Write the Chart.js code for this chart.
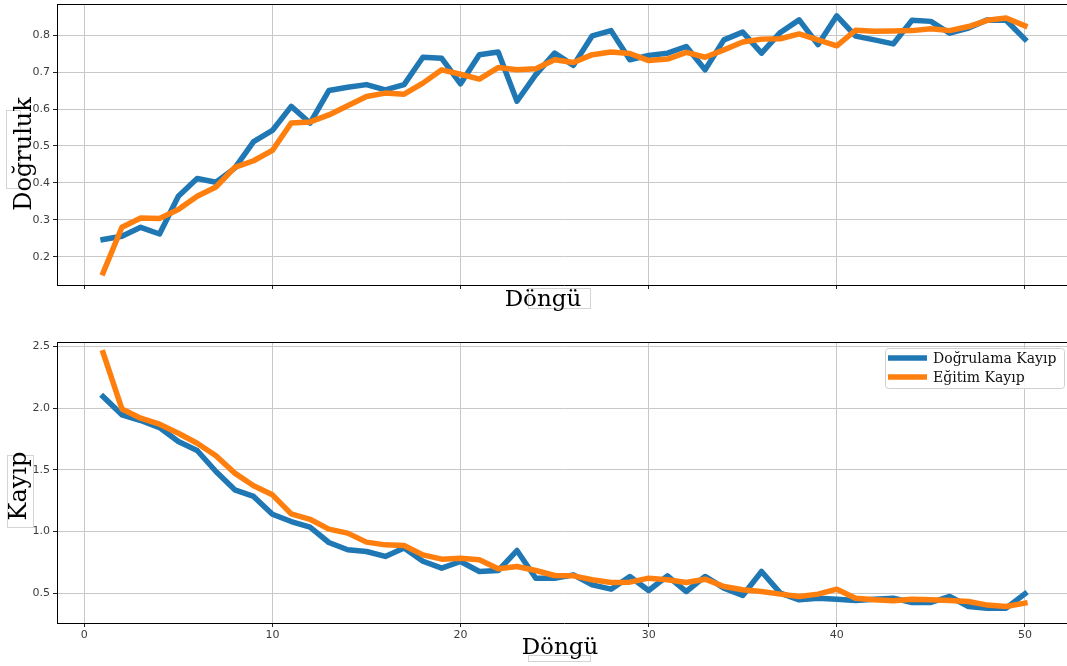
<!DOCTYPE html>
<html>
<head>
<meta charset="utf-8">
<script src="https://cdn.jsdelivr.net/npm/chart.js@4.4.1/dist/chart.umd.min.js"></script>
<style>
  html, body { margin: 0; padding: 0; background: #fff; overflow: hidden; }
  #wrap { position: relative; width: 1067px; height: 666px; overflow: hidden; background: #fff; }
  canvas { position: absolute; left: 0; }
  #acc  { top: 0;     width: 1080px; height: 315px; }
  #loss { top: 315px; width: 1080px; height: 351px; }
</style>
</head>
<body>
<div id="wrap">
  <canvas id="acc" width="1080" height="315"></canvas>
  <canvas id="loss" width="1080" height="351"></canvas>
</div>
<script>
// Epochs (Döngü)
const epochs = Array.from({ length: 50 }, (_, i) => i + 1);

// Accuracy per epoch
const valAcc = [
  0.247, 0.256, 0.280, 0.262, 0.364, 0.412, 0.402, 0.440, 0.512, 0.542,
  0.607, 0.562, 0.650, 0.659, 0.666, 0.652, 0.666, 0.740, 0.737, 0.668,
  0.747, 0.754, 0.621, 0.693, 0.751, 0.718, 0.798, 0.812, 0.733, 0.745,
  0.751, 0.769, 0.706, 0.787, 0.808, 0.751, 0.807, 0.841, 0.774, 0.852,
  0.797, 0.787, 0.776, 0.840, 0.837, 0.805, 0.819, 0.841, 0.840, 0.789
];
const trainAcc = [
  0.157, 0.280, 0.305, 0.304, 0.328, 0.364, 0.389, 0.442, 0.460, 0.488,
  0.562, 0.565, 0.584, 0.609, 0.634, 0.643, 0.640, 0.670, 0.706, 0.694,
  0.681, 0.712, 0.706, 0.709, 0.733, 0.726, 0.747, 0.754, 0.750, 0.731,
  0.735, 0.753, 0.740, 0.760, 0.781, 0.789, 0.790, 0.803, 0.787, 0.771,
  0.813, 0.810, 0.811, 0.812, 0.817, 0.812, 0.823, 0.840, 0.846, 0.825
];

// Loss per epoch
const valLoss = [
  2.094, 1.946, 1.900, 1.843, 1.730, 1.657, 1.487, 1.339, 1.285, 1.141,
  1.082, 1.036, 0.912, 0.853, 0.839, 0.799, 0.867, 0.760, 0.704, 0.758,
  0.677, 0.685, 0.847, 0.623, 0.623, 0.650, 0.569, 0.534, 0.637, 0.523,
  0.642, 0.515, 0.637, 0.542, 0.483, 0.677, 0.502, 0.448, 0.461, 0.453,
  0.442, 0.453, 0.461, 0.426, 0.426, 0.475, 0.394, 0.380, 0.380, 0.497
];
const trainLoss = [
  2.450, 1.994, 1.919, 1.870, 1.797, 1.716, 1.614, 1.474, 1.371, 1.298,
  1.144, 1.100, 1.020, 0.988, 0.915, 0.893, 0.888, 0.812, 0.777, 0.785,
  0.772, 0.699, 0.718, 0.685, 0.645, 0.642, 0.610, 0.588, 0.591, 0.623,
  0.610, 0.588, 0.615, 0.556, 0.529, 0.515, 0.494, 0.475, 0.494, 0.534,
  0.461, 0.448, 0.440, 0.453, 0.448, 0.442, 0.434, 0.405, 0.394, 0.421
];

// Tick values
const xTicks = [0, 10, 20, 30, 40, 50];
const accTicks = [0.2, 0.3, 0.4, 0.5, 0.6, 0.7, 0.8];
const lossTicks = [0.5, 1.0, 1.5, 2.0, 2.5];

const BLUE = '#1f77b4';
const ORANGE = '#ff7f0e';
const GRID = '#c8c8c8';
const TICK_TEXT = '#3c3c3c';
const SERIF = '"DejaVu Serif", "Liberation Serif", serif';

const pts = (ys) => epochs.map((x, i) => ({ x, y: ys[i] }));

// Frame, axis titles and (optionally) legend drawn on top of each chart
const decorations = {
  id: 'decorations',
  afterDraw(chart, args, opts) {
    const ctx = chart.ctx;
    const a = chart.chartArea;
    ctx.save();
    // top + right spines
    ctx.strokeStyle = '#000';
    ctx.lineWidth = 1;
    ctx.beginPath();
    ctx.moveTo(a.left, a.top + 0.5);
    ctx.lineTo(a.right, a.top + 0.5);
    ctx.moveTo(a.right - 0.5, a.top);
    ctx.lineTo(a.right - 0.5, a.bottom);
    ctx.stroke();

    // faint label frames
    ctx.strokeStyle = '#d4d4d4';
    ctx.lineWidth = 1;
    (opts.boxes || []).forEach(b => ctx.strokeRect(b[0] + 0.5, b[1] + 0.5, b[2], b[3]));

    // x title
    ctx.fillStyle = '#000';
    ctx.textAlign = 'center';
    ctx.textBaseline = 'alphabetic';
    ctx.font = '23px ' + SERIF;
    ctx.fillText(opts.xTitle.text, opts.xTitle.x, opts.xTitle.y);

    // y title (rotated)
    ctx.save();
    ctx.translate(opts.yTitle.x, opts.yTitle.y);
    ctx.rotate(-Math.PI / 2);
    ctx.font = opts.yTitle.size + 'px ' + SERIF;
    ctx.fillText(opts.yTitle.text, 0, 0);
    ctx.restore();

    // legend
    if (opts.legend) {
      const L = opts.legend;
      ctx.fillStyle = 'rgba(255,255,255,0.85)';
      ctx.strokeStyle = '#d0d0d0';
      ctx.lineWidth = 1;
      ctx.beginPath();
      ctx.roundRect(L.x + 0.5, L.y + 0.5, L.w, L.h, 3);
      ctx.fill();
      ctx.stroke();
      ctx.font = '14px ' + SERIF;
      ctx.textAlign = 'left';
      ctx.textBaseline = 'middle';
      chart.data.datasets.forEach((ds, i) => {
        const cy = L.y + L.rowY[i];
        ctx.strokeStyle = ds.borderColor;
        ctx.lineWidth = 5.5;
        ctx.lineCap = 'butt';
        ctx.beginPath();
        ctx.moveTo(L.x + 3, cy);
        ctx.lineTo(L.x + 42, cy);
        ctx.stroke();
        ctx.fillStyle = '#111';
        ctx.fillText(ds.label, L.x + 48, cy + 1);
      });
    }
    ctx.restore();
  }
};

function makeScales(yMin, yMax, yTicks, xAxisHeight, showXLabels) {
  return {
    x: {
      type: 'linear',
      min: -1.45,
      max: 52.45,
      afterBuildTicks: s => { s.ticks = xTicks.map(v => ({ value: v })); },
      afterFit: s => {
        s.height = xAxisHeight;
        s.paddingLeft = 0; s.paddingRight = 0; s.paddingTop = 0; s.paddingBottom = 0;
      },
      ticks: {
        display: showXLabels,
        font: { family: '"DejaVu Sans", sans-serif', size: 11 },
        color: TICK_TEXT,
        padding: 2,
        maxRotation: 0,
        callback: v => String(v)
      },
      grid: { color: GRID, lineWidth: 1, tickColor: '#222', tickLength: 4 },
      border: { color: '#000', width: 1 }
    },
    y: {
      type: 'linear',
      min: yMin,
      max: yMax,
      afterBuildTicks: s => { s.ticks = yTicks.map(v => ({ value: v })); },
      afterFit: s => {
        s.width = 57;
        s.paddingLeft = 0; s.paddingRight = 0; s.paddingTop = 0; s.paddingBottom = 0;
      },
      ticks: {
        font: { family: '"DejaVu Sans", sans-serif', size: 11 },
        color: TICK_TEXT,
        padding: 3,
        callback: v => Number(v).toFixed(1)
      },
      grid: { color: GRID, lineWidth: 1, tickColor: '#222', tickLength: 4 },
      border: { color: '#000', width: 1 }
    }
  };
}

const lineStyle = {
  point: { radius: 0, hoverRadius: 0 },
  line: { tension: 0, borderWidth: 5.5, borderJoinStyle: 'round', borderCapStyle: 'square' }
};

// Accuracy panel
new Chart(document.getElementById('acc'), {
  type: 'line',
  data: {
    datasets: [
      { label: 'Doğrulama Doğruluk', data: pts(valAcc), borderColor: BLUE, backgroundColor: BLUE, fill: false, order: 1 },
      { label: 'Eğitim Doğruluk', data: pts(trainAcc), borderColor: ORANGE, backgroundColor: ORANGE, fill: false, order: 0 }
    ]
  },
  options: {
    responsive: false,
    animation: false,
    events: [],
    layout: { padding: { top: 4, right: 9, left: 0, bottom: 0 } },
    elements: lineStyle,
    scales: makeScales(0.124, 0.884, accTicks, 30, false),
    plugins: {
      legend: { display: false },
      tooltip: { enabled: false },
      decorations: {
        xTitle: { text: 'Döngü', x: 543, y: 306 },
        yTitle: { text: 'Doğruluk', x: 31, y: 154, size: 24 },
        boxes: [[528, 288, 62, 20], [6, 110, 14, 78]]
      }
    }
  },
  plugins: [decorations]
});

// Loss panel
new Chart(document.getElementById('loss'), {
  type: 'line',
  data: {
    datasets: [
      { label: 'Doğrulama Kayıp', data: pts(valLoss), borderColor: BLUE, backgroundColor: BLUE, fill: false, order: 1 },
      { label: 'Eğitim Kayıp', data: pts(trainLoss), borderColor: ORANGE, backgroundColor: ORANGE, fill: false, order: 0 }
    ]
  },
  options: {
    responsive: false,
    animation: false,
    events: [],
    layout: { padding: { top: 27, right: 9, left: 0, bottom: 0 } },
    elements: lineStyle,
    scales: makeScales(0.26, 2.536, lossTicks, 43, true),
    plugins: {
      legend: { display: false },
      tooltip: { enabled: false },
      decorations: {
        xTitle: { text: 'Döngü', x: 560, y: 339 },
        yTitle: { text: 'Kayıp', x: 26, y: 171, size: 24 },
        boxes: [[528, 340, 62, 6], [7, 140, 26, 72]],
        legend: { x: 885, y: 33, w: 179, h: 40, rowY: [10, 29] }
      }
    }
  },
  plugins: [decorations]
});
</script>
</body>
</html>
